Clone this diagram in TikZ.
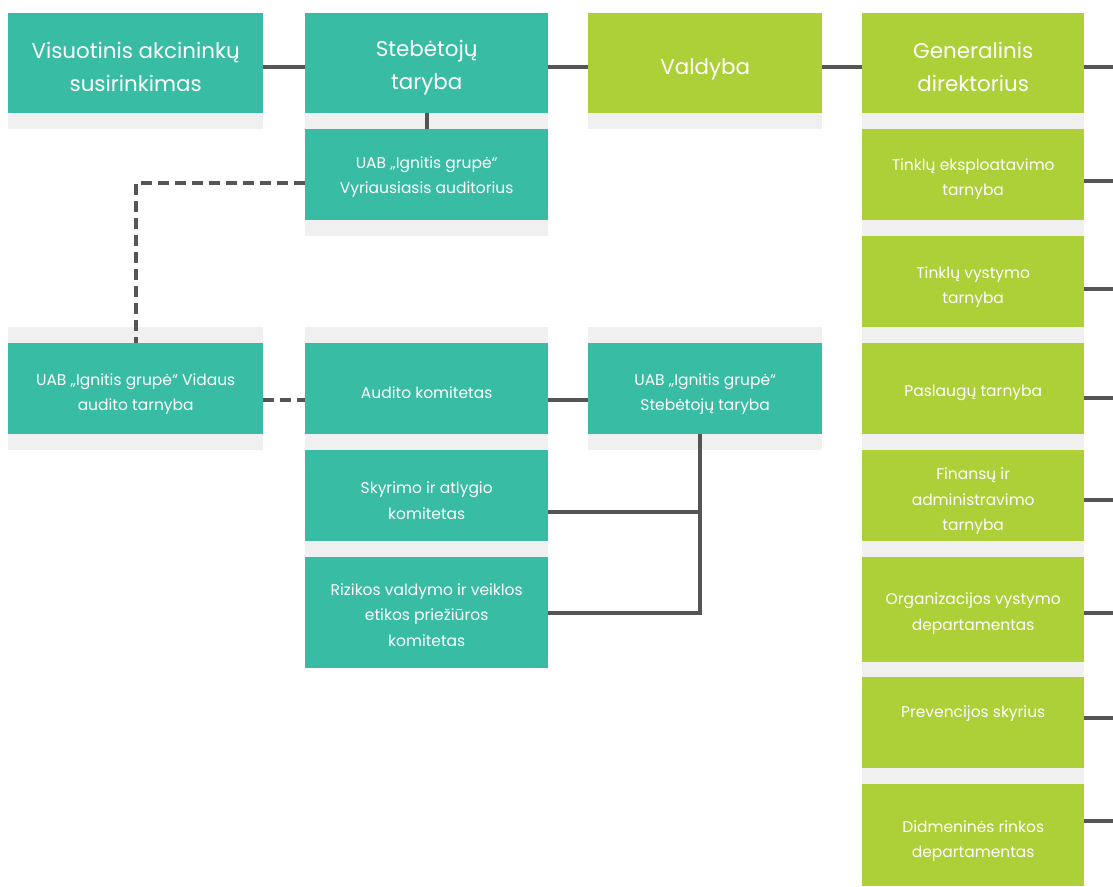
\documentclass[tikz,border=0pt]{standalone}
\usepackage{fontspec}
\setmainfont{Poppins}
\definecolor{teal1}{HTML}{38BCA4}
\definecolor{green1}{HTML}{ADCF37}
\definecolor{strip}{HTML}{F0F0F0}
\definecolor{conn}{HTML}{555555}
\tikzset{
  box/.style={anchor=north west, inner sep=0pt},
  tealbox/.style={box, fill=teal1},
  greenbox/.style={box, fill=green1},
  bigtext/.style={inner sep=0pt, text=white, align=center, font=\fontsize{21.4}{32.5}\selectfont},
  smalltext/.style={inner sep=0pt, text=white, align=center, font=\fontsize{15.5}{25.5}\selectfont},
  stripfill/.style={fill=strip},
  link/.style={draw=conn, line width=3.8pt},
  dlink/.style={draw=conn, line width=3.8pt, dash pattern=on 11pt off 6pt},
}
\begin{document}
\begin{tikzpicture}[x=1pt,y=-1pt]
\useasboundingbox[fill=white] (0,0) rectangle (1113,886);
% grey strips
\fill[stripfill] (8,113) rectangle (263,129);
\fill[stripfill] (305,113) rectangle (548,129);
\fill[stripfill] (588,113) rectangle (822,129);
\fill[stripfill] (862,113) rectangle (1084,129);
\fill[stripfill] (305,220) rectangle (548,236);
\fill[stripfill] (8,327) rectangle (263,450);
\fill[stripfill] (305,327) rectangle (548,557);
\fill[stripfill] (588,327) rectangle (822,450);
\fill[stripfill] (862,220) rectangle (1084,784);
% top row
\node[tealbox,minimum width=255pt,minimum height=100pt] (va) at (8,13) {};
\node[tealbox,minimum width=243pt,minimum height=100pt] (st) at (305,13) {};
\node[greenbox,minimum width=234pt,minimum height=100pt] (val) at (588,13) {};
\node[greenbox,minimum width=222pt,minimum height=100pt] (gd) at (862,13) {};
\node[bigtext] (va-t) at ([yshift=-4pt]va.center) {Visuotinis akcininkų\\susirinkimas};
\node[bigtext] (st-t) at ([yshift=-4.5pt]st.center) {Stebėtojų\\taryba};
\node[bigtext] (val-t) at ([yshift=-6.5pt]val.center) {Valdyba};
\node[bigtext] (gd-t) at ([yshift=-4pt]gd.center) {Generalinis\\direktorius};
% teal small boxes
\node[tealbox,minimum width=243pt,minimum height=91pt] (vyr) at (305,129) {};
\node[tealbox,minimum width=255pt,minimum height=91pt] (vid) at (8,343) {};
\node[tealbox,minimum width=243pt,minimum height=91pt] (aud) at (305,343) {};
\node[tealbox,minimum width=234pt,minimum height=91pt] (ust) at (588,343) {};
\node[tealbox,minimum width=243pt,minimum height=91pt] (sky) at (305,450) {};
\node[tealbox,minimum width=243pt,minimum height=111pt] (riz) at (305,557) {};
\node[smalltext] (vyr-t) at ([yshift=-2.5pt]vyr.center) {UAB „Ignitis grupė“\\Vyriausiasis auditorius};
\node[smalltext] (vid-t) at ([yshift=-5.5pt]vid.center) {UAB „Ignitis grupė“ Vidaus\\audito tarnyba};
\node[smalltext] (aud-t) at ([yshift=-4pt]aud.center) {Audito komitetas};
\node[smalltext] (ust-t) at ([yshift=-5.5pt]ust.center) {UAB „Ignitis grupė“\\Stebėtojų taryba};
\node[smalltext] (sky-t) at ([yshift=-5pt]sky.center) {Skyrimo ir atlygio\\komitetas};
\node[smalltext] (riz-t) at ([yshift=-2pt]riz.center) {Rizikos valdymo ir veiklos\\etikos priežiūros\\komitetas};
% green small boxes
\node[greenbox,minimum width=222pt,minimum height=91pt] (t1) at (862,129) {};
\node[greenbox,minimum width=222pt,minimum height=91pt] (t2) at (862,236) {};
\node[greenbox,minimum width=222pt,minimum height=91pt] (t3) at (862,343) {};
\node[greenbox,minimum width=222pt,minimum height=91pt] (t4) at (862,450) {};
\node[greenbox,minimum width=222pt,minimum height=105pt] (t5) at (862,557) {};
\node[greenbox,minimum width=222pt,minimum height=91pt] (t6) at (862,677) {};
\node[greenbox,minimum width=222pt,minimum height=102pt] (t7) at (862,784) {};
\node[smalltext] (t1-t) at ([yshift=-4.5pt]t1.center) {Tinklų eksploatavimo\\tarnyba};
\node[smalltext] (t2-t) at ([yshift=-5.5pt]t2.center) {Tinklų vystymo\\tarnyba};
\node[smalltext] (t3-t) at ([yshift=-4.5pt]t3.center) {Paslaugų tarnyba};
\node[smalltext] (t4-t) at ([yshift=-5.5pt]t4.center) {Finansų ir\\administravimo\\tarnyba};
\node[smalltext] (t5-t) at ([yshift=-4pt]t5.center) {Organizacijos vystymo\\departamentas};
\node[smalltext] (t6-t) at ([yshift=9.5pt]t6.center) {Prevencijos skyrius};
\node[smalltext] (t7-t) at ([yshift=-6pt]t7.center) {Didmeninės rinkos\\departamentas};
% free ends on the right edge
\coordinate (e0) at (1113,67);
\coordinate (e1) at (1113,181);
\coordinate (e2) at (1113,289);
\coordinate (e3) at (1113,398);
\coordinate (e4) at (1113,500);
\coordinate (e5) at (1113,613);
\coordinate (e6) at (1113,718);
\coordinate (e7) at (1113,821);
% connectors
\draw[link] (va.east |- e0) -- (st.west |- e0);
\draw[link] (st.east |- e0) -- (val.west |- e0);
\draw[link] (val.east |- e0) -- (gd.west |- e0);
\draw[link] (gd.east |- e0) -- (e0);
\draw[link] (st.south) -- (vyr.north);
\draw[dlink] ([yshift=-8.5pt]vyr.west) -| (vid.north);
\draw[dlink] ([yshift=-11.5pt]vid.east) -- ([yshift=-11.5pt]aud.west);
\draw[link] ([yshift=-11.5pt]aud.east) -- ([yshift=-11.5pt]ust.west);
\draw[link] ([yshift=-16.5pt]sky.east) -| ([xshift=-5pt]ust.south);
\draw[link] ([yshift=-0.5pt]riz.east) -| ([xshift=-5pt]ust.south);
\draw[link] (t1.east |- e1) -- (e1);
\draw[link] (t2.east |- e2) -- (e2);
\draw[link] (t3.east |- e3) -- (e3);
\draw[link] (t4.east |- e4) -- (e4);
\draw[link] (t5.east |- e5) -- (e5);
\draw[link] (t6.east |- e6) -- (e6);
\draw[link] (t7.east |- e7) -- (e7);
\end{tikzpicture}
\end{document}
